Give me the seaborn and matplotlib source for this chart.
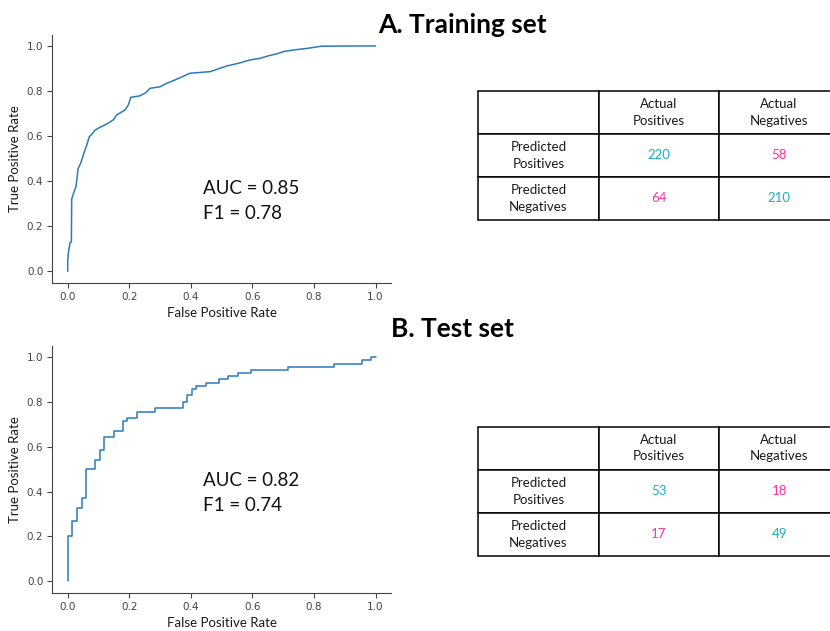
import matplotlib
matplotlib.use("Agg")
import matplotlib.pyplot as plt
import pandas as pd
import seaborn as sns

# ROC curve
fpr_train = [0.000, 0.000, 0.002, 0.0075, 0.012, 0.013, 0.018, 0.027, 0.034, 0.042,
             0.049, 0.056, 0.062, 0.070, 0.078, 0.089, 0.105, 0.127, 0.148, 0.159,
             0.186, 0.197, 0.205, 0.235, 0.254, 0.267, 0.300, 0.321, 0.348, 0.373,
             0.397, 0.462, 0.516, 0.554, 0.592, 0.624, 0.651, 0.687, 0.700, 0.732,
             0.781, 0.825, 0.927, 1.000]
tpr_train = [0.000, 0.043, 0.080, 0.127, 0.130, 0.320, 0.343, 0.376, 0.457, 0.479,
             0.509, 0.538, 0.560, 0.597, 0.608, 0.627, 0.639, 0.654, 0.672, 0.694,
             0.716, 0.738, 0.772, 0.779, 0.793, 0.812, 0.819, 0.834, 0.849, 0.864,
             0.879, 0.886, 0.911, 0.923, 0.938, 0.945, 0.956, 0.968, 0.975, 0.982,
             0.990, 0.999, 1.000, 1.000]

# ROC curve of the test panel (step corners)
fpr_test = [0.000, 0.015, 0.030, 0.045, 0.060, 0.090, 0.104, 0.119, 0.149, 0.179,
            0.194, 0.224, 0.284, 0.373, 0.388, 0.403, 0.418, 0.448, 0.493, 0.522,
            0.552, 0.597, 0.716, 0.866, 0.955, 0.985, 1.000]
tpr_test = [0.000, 0.200, 0.271, 0.329, 0.371, 0.500, 0.543, 0.586, 0.643, 0.671,
            0.714, 0.729, 0.757, 0.771, 0.800, 0.829, 0.857, 0.871, 0.886, 0.900,
            0.914, 0.929, 0.943, 0.957, 0.971, 0.986, 1.000]

metrics_train = {"AUC": 0.85, "F1": 0.78}
metrics_test = {"AUC": 0.82, "F1": 0.74}

col_labels = ["Actual\nPositives", "Actual\nNegatives"]
row_labels = ["Predicted\nPositives", "Predicted\nNegatives"]
cm_train = [[220, 58], [64, 210]]
cm_test = [[53, 18], [17, 49]]

titles = ["A. Training set", "B. Test set"]

TEAL = "#17b0c4"
PINK = "#ff3399"
TEXT_FONT = ["Lato", "DejaVu Sans"]

sns.set_theme(style="ticks")
plt.rcParams["font.family"] = ["DejaVu Sans"]

fig = plt.figure(figsize=(8.3, 6.31), dpi=100)


def draw_roc(rect, fpr, tpr, steps):
    ax = fig.add_axes(rect)
    df = pd.DataFrame({"fpr": fpr, "tpr": tpr})
    kw = {"drawstyle": "steps-pre"} if steps else {}
    sns.lineplot(data=df, x="fpr", y="tpr", ax=ax, sort=False, estimator=None,
                 color="#2b7bba", linewidth=1.1, **kw)
    ax.set_xlim(-0.05, 1.05)
    ax.set_ylim(-0.05, 1.05)
    ticks = [0.0, 0.2, 0.4, 0.6, 0.8, 1.0]
    ax.set_xticks(ticks)
    ax.set_yticks(ticks)
    ax.set_xticklabels([f"{t:.1f}" for t in ticks])
    ax.set_yticklabels([f"{t:.1f}" for t in ticks])
    ax.tick_params(labelsize=7.5, colors="#444444", length=3.5, width=0.8, pad=3)
    for s in ["left", "bottom"]:
        ax.spines[s].set_color("#444444")
        ax.spines[s].set_linewidth(0.8)
    sns.despine(ax=ax)
    ax.set_xlabel("False Positive Rate", fontsize=9.5, family=TEXT_FONT, color="#1a1a1a", labelpad=4)
    ax.set_ylabel("True Positive Rate", fontsize=9.5, family=TEXT_FONT, color="#1a1a1a", labelpad=4)
    return ax


def draw_table(rect, cm):
    ax = fig.add_axes(rect)
    ax.set_axis_off()
    cells = [["", col_labels[0], col_labels[1]]]
    for i in range(2):
        cells.append([row_labels[i], str(cm[i][0]), str(cm[i][1])])
    tab = ax.table(cellText=cells, cellLoc="center", bbox=[0, 0, 1, 1])
    tab.auto_set_font_size(False)
    tab.set_fontsize(9.5)
    for (r, c), cell in tab.get_celld().items():
        cell.set_edgecolor("black")
        cell.set_linewidth(1.1)
        t = cell.get_text()
        t.set_family(TEXT_FONT)
        t.set_linespacing(1.45)
        t.set_color("#1a1a1a")
        if r > 0 and c > 0:
            t.set_color(TEAL if r == c else PINK)
    return ax


ax_a = draw_roc([0.063, 0.552, 0.408, 0.393], fpr_train, tpr_train, False)
ax_b = draw_roc([0.063, 0.061, 0.408, 0.391], fpr_test, tpr_test, True)

for ax, m, y1, y2 in [(ax_a, metrics_train, 0.343, 0.231), (ax_b, metrics_test, 0.425, 0.315)]:
    ax.text(0.44, y1, f"AUC = {m['AUC']:.2f}", fontsize=13.5, family=TEXT_FONT,
            color="#111111", va="baseline", ha="left")
    ax.text(0.44, y2, f"F1 = {m['F1']:.2f}", fontsize=13.5, family=TEXT_FONT,
            color="#111111", va="baseline", ha="left")

draw_table([0.5763, 0.6513, 0.4349, 0.2049], cm_train)
draw_table([0.5763, 0.1189, 0.4349, 0.2049], cm_test)

fig.text(0.5566, 0.947, titles[0], fontsize=19, fontweight="bold", family=TEXT_FONT,
         ha="center", va="baseline", color="black")
fig.text(0.545, 0.466, titles[1], fontsize=19, fontweight="bold", family=TEXT_FONT,
         ha="center", va="baseline", color="black")

fig.savefig("out.png", dpi=100, facecolor="white")
